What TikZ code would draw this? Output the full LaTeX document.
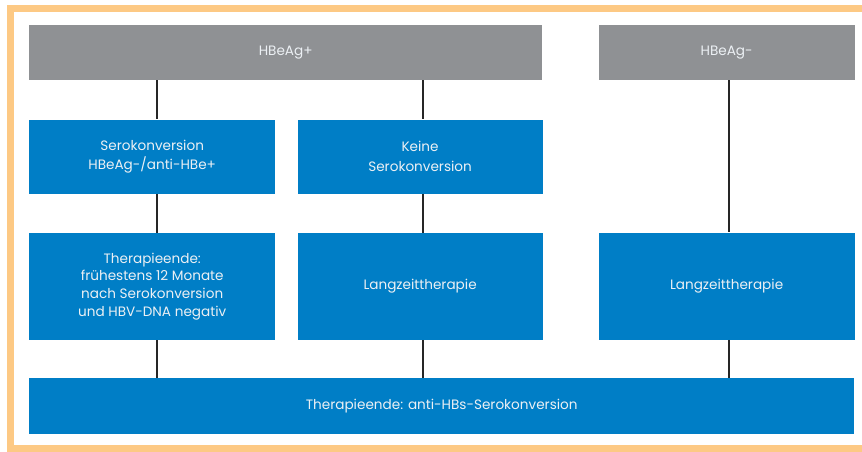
\documentclass[tikz,border=0pt]{standalone}
\usepackage{fontspec}
\setmainfont{Poppins}
\usetikzlibrary{positioning}
\definecolor{hbgray}{RGB}{143,145,148}
\definecolor{hbblue}{RGB}{0,126,198}
\definecolor{hbframe}{RGB}{253,201,132}
\definecolor{hbtext}{RGB}{236,240,244}
\tikzset{
    greybar/.style={fill=hbgray, text=hbtext, minimum height=55pt, inner sep=0pt, font=\fontsize{13.6}{18}\selectfont},
    bluebox/.style={fill=hbblue, text=hbtext, align=center, inner sep=0pt, font=\fontsize{13.6}{17.8}\selectfont},
    shortbox/.style={bluebox, minimum height=74pt, font=\fontsize{13.6}{19.5}\selectfont},
    link/.style={draw=black!85, line width=2.2pt}
}

\begin{document}
\begin{tikzpicture}[node distance=39pt]
  \useasboundingbox (0,0) rectangle (862pt,-452pt);
  % frame, open on the right
  \draw[hbframe, line width=7pt] (870pt,-8.5pt) -- (10.5pt,-8.5pt) -- (10.5pt,-448.5pt) -- (870pt,-448.5pt);
  \coordinate (O) at (29pt,-25pt);
  % top bars
  \node(pos)[greybar, minimum width=513pt, anchor=north west] at (O) {HBeAg+};
  \node(neg)[greybar, minimum width=256pt, right=56pt of pos]{HBeAg-};
  % first row
  \node(sero)[shortbox, minimum width=246pt, below=of pos.south west, anchor=north west]{Serokonversion\\HBeAg-/anti-HBe+};
  \node(keine)[shortbox, minimum width=245pt, right=22pt of sero]{Keine\\Serokonversion};
  % second row
  \node(ende)[bluebox, minimum width=246pt, minimum height=107pt, below=of sero]{Therapieende:\\frühestens 12 Monate\\nach Serokonversion\\und HBV-DNA negativ};
  \node(lang)[bluebox, minimum width=245pt, minimum height=107pt, right=22pt of ende]{Langzeittherapie};
  \node(langneg)[bluebox, minimum width=256pt, minimum height=107pt, below=152pt of neg]{Langzeittherapie};
  % bottom bar
  \node(hbs)[bluebox, minimum width=825pt, minimum height=56pt, below=38pt of ende.south west, anchor=north west]{Therapieende: anti-HBs-Serokonversion};
  \draw[link]([xshift=5pt]sero.north |- pos.south)--([xshift=5pt]sero.north);
  \draw[link]([xshift=5pt]sero.south)--([xshift=5pt]ende.north);
  \draw[link]([xshift=5pt]ende.south)--([xshift=5pt]ende.south |- hbs.north);
  \draw[link]([xshift=2.5pt]keine.north |- pos.south)--([xshift=2.5pt]keine.north);
  \draw[link]([xshift=2.5pt]keine.south)--([xshift=2.5pt]lang.north);
  \draw[link]([xshift=2.5pt]lang.south)--([xshift=2.5pt]lang.south |- hbs.north);
  \draw[link]([xshift=2pt]neg.south)--([xshift=2pt]langneg.north);
  \draw[link]([xshift=2pt]langneg.south)--([xshift=2pt]langneg.south |- hbs.north);
\end{tikzpicture}
\end{document}
